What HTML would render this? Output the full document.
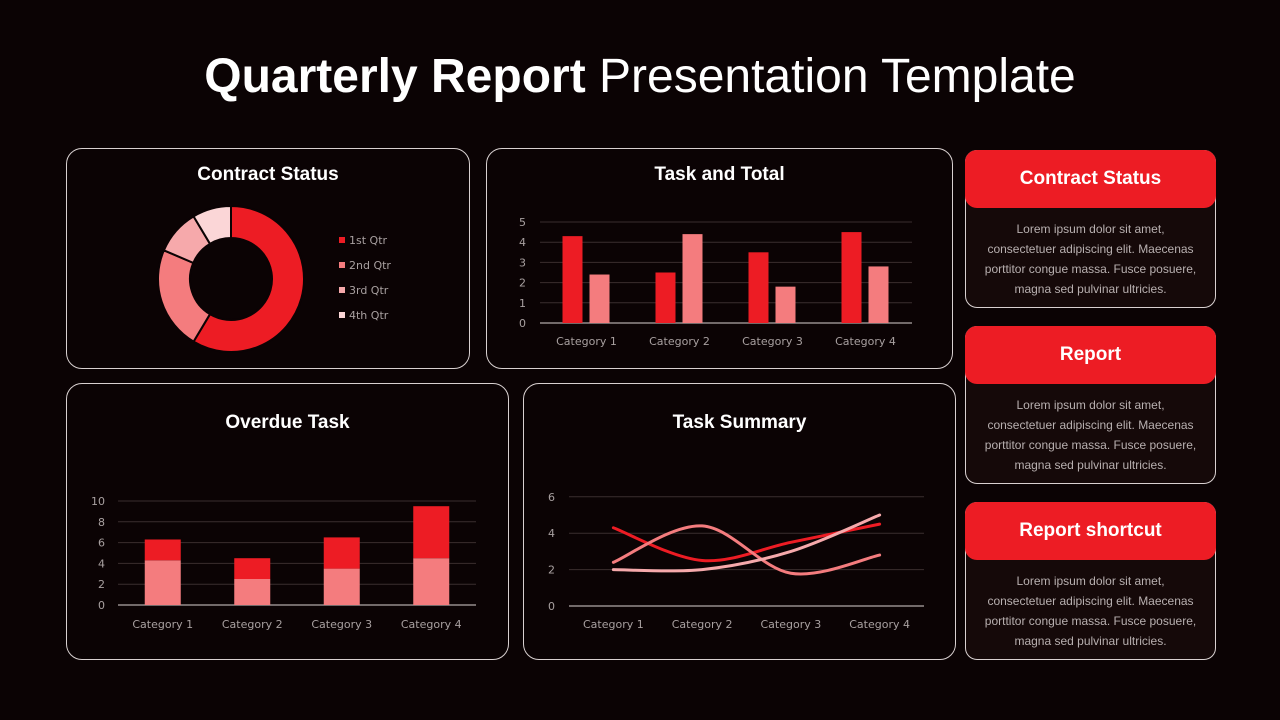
<!DOCTYPE html>
<html><head><meta charset="utf-8"><style>
body{margin:0;width:1280px;height:720px;background:#0b0304;font-family:"Liberation Sans",sans-serif;overflow:hidden;position:relative;color:#fff}
.title{position:absolute;top:49px;left:0;width:1280px;text-align:center;font-size:48px;letter-spacing:0px}
.panel{position:absolute;border:1px solid #d8d0d0;border-radius:16px;box-sizing:border-box}
.ptitle{position:absolute;left:0;right:0;text-align:center;font-weight:bold;font-size:19px;font-family:"Liberation Sans Narrow","Liberation Sans",sans-serif}
.card{position:absolute;left:965px;width:251px;border:1px solid #d8d0d0;border-radius:12px;background:#150909;box-sizing:border-box}
.card .hd{position:absolute;left:-1px;top:-1px;width:251px;height:58px;background:#ed1c24;border-radius:12px;text-align:center;line-height:58px;font-weight:bold;font-size:19px;font-family:"Liberation Sans Narrow","Liberation Sans",sans-serif}
.card .bd{position:absolute;top:68px;left:0;right:0;text-align:center;font-size:12px;line-height:20px;color:#b8b0b0}
svg{position:absolute;left:0;top:0}
svg text{font-family:"DejaVu Sans",sans-serif;font-size:11px;fill:#a8a0a0}
</style></head><body>
<div class="title"><b>Quarterly Report</b> Presentation Template</div>

<div class="panel" style="left:66px;top:148px;width:404px;height:221px"><div class="ptitle" style="top:15px">Contract Status</div></div>
<div class="panel" style="left:486px;top:148px;width:467px;height:221px"><div class="ptitle" style="top:15px">Task and Total</div></div>
<div class="panel" style="left:66px;top:383px;width:443px;height:277px"><div class="ptitle" style="top:28px">Overdue Task</div></div>
<div class="panel" style="left:523px;top:383px;width:433px;height:277px"><div class="ptitle" style="top:28px">Task Summary</div></div>

<div class="card" style="top:150px;height:158px"><div class="hd">Contract Status</div><div class="bd">Lorem ipsum dolor sit amet,<br>consectetuer adipiscing elit. Maecenas<br>porttitor congue massa. Fusce posuere,<br>magna sed pulvinar ultricies.</div></div>
<div class="card" style="top:326px;height:158px"><div class="hd">Report</div><div class="bd">Lorem ipsum dolor sit amet,<br>consectetuer adipiscing elit. Maecenas<br>porttitor congue massa. Fusce posuere,<br>magna sed pulvinar ultricies.</div></div>
<div class="card" style="top:502px;height:158px"><div class="hd">Report shortcut</div><div class="bd">Lorem ipsum dolor sit amet,<br>consectetuer adipiscing elit. Maecenas<br>porttitor congue massa. Fusce posuere,<br>magna sed pulvinar ultricies.</div></div>

<svg id="chart" width="1280" height="720"></svg>
<script>
const donutLabels=["1st Qtr","2nd Qtr","3rd Qtr","4th Qtr"];
const donutValues=[8.2,3.2,1.4,1.2];
const cats=["Category 1","Category 2","Category 3","Category 4"];
const ttSeriesA=[4.3,2.5,3.5,4.5];
const ttSeriesB=[2.4,4.4,1.8,2.8];
const ttTicks=[0,1,2,3,4,5];
const odBottom=[4.3,2.5,3.5,4.5];
const odTop=[2.0,2.0,3.0,5.0];
const odTicks=[0,2,4,6,8,10];
const lnA=[4.3,2.5,3.5,4.5];
const lnB=[2.4,4.4,1.8,2.8];
const lnC=[2.0,2.0,3.0,5.0];
const lnTicks=[0,2,4,6];
const RED="#ed1c24",PINK="#f47c7e",LP="#f6a9ab",LLP="#fbd6d7";
const svg=document.getElementById('chart');
function mk(t,a,name){const e=document.createElementNS('http://www.w3.org/2000/svg',t);for(const k in a)e.setAttribute(k,a[k]);


svg.appendChild(e);return e;}
function txt(x,y,s,anchor,name){const e=mk('text',{x:x,y:y,'text-anchor':anchor},name);e.textContent=s;return e;}

(function(){const cx=231,cy=279,R=73,r=41,tot=donutValues.reduce((a,b)=>a+b,0);const cols=[RED,PINK,LP,LLP];let a0=0;
donutValues.forEach((v,i)=>{const a1=a0+v/tot*2*Math.PI;const p=(a,rr)=>[cx+rr*Math.sin(a),cy-rr*Math.cos(a)];const lg=(a1-a0)>Math.PI?1:0;
const [x1,y1]=p(a0,R),[x2,y2]=p(a1,R),[x3,y3]=p(a1,r),[x4,y4]=p(a0,r);
mk('path',{d:`M${x1},${y1}A${R},${R} 0 ${lg} 1 ${x2},${y2}L${x3},${y3}A${r},${r} 0 ${lg} 0 ${x4},${y4}Z`,fill:cols[i],stroke:'#0b0304','stroke-width':2},'donut-slice-'+(i+1));a0=a1;
mk('rect',{x:339,y:237+i*25,width:6,height:6,fill:cols[i]},'legend-swatch');
txt(349,244+i*25,donutLabels[i],'start','legend-entry');});})();

(function(){const x0=540,x1=912,y0=323,k=20.2,step=(x1-x0)/4;
ttTicks.forEach(t=>{const y=y0-t*k;mk('line',{x1:x0,x2:x1,y1:y,y2:y,stroke:t?'#3a2e2e':'#d8d0d0','stroke-width':1},'gridline');txt(526,y+4,t,'end','y-tick');});
cats.forEach((c,i)=>{const cx=x0+step*(i+0.5);
mk('rect',{x:cx-24,y:y0-ttSeriesA[i]*k,width:20,height:ttSeriesA[i]*k,fill:RED},'bar-a-'+(i+1));
mk('rect',{x:cx+3,y:y0-ttSeriesB[i]*k,width:20,height:ttSeriesB[i]*k,fill:PINK},'bar-b-'+(i+1));
txt(cx,345,c,'middle','x-tick');});})();

(function(){const x0=118,x1=476,y0=605,k=10.4,step=(x1-x0)/4;
odTicks.forEach(t=>{const y=y0-t*k;mk('line',{x1:x0,x2:x1,y1:y,y2:y,stroke:t?'#3a2e2e':'#d8d0d0','stroke-width':1},'gridline');txt(105,y+4,t,'end','y-tick');});
cats.forEach((c,i)=>{const cx=x0+step*(i+0.5);const hb=odBottom[i]*k,ht=odTop[i]*k;
mk('rect',{x:cx-18,y:y0-hb,width:36,height:hb,fill:PINK},'stack-bottom-'+(i+1));
mk('rect',{x:cx-18,y:y0-hb-ht,width:36,height:ht,fill:RED},'stack-top-'+(i+1));
txt(cx,628,c,'middle','x-tick');});})();

(function(){const x0=569,x1=924,y0=606,k=18.2,step=(x1-x0)/4;
lnTicks.forEach(t=>{const y=y0-t*k;mk('line',{x1:x0,x2:x1,y1:y,y2:y,stroke:t?'#3a2e2e':'#d8d0d0','stroke-width':1},'gridline');txt(555,y+4,t,'end','y-tick');});
cats.forEach((c,i)=>txt(x0+step*(i+0.5),628,c,'middle','x-tick'));
function path(vals){const pts=vals.map((v,i)=>[x0+step*(i+0.5),y0-v*k]);let d=`M${pts[0][0]},${pts[0][1]}`;
for(let i=0;i<pts.length-1;i++){const p0=pts[Math.max(0,i-1)],p1=pts[i],p2=pts[i+1],p3=pts[Math.min(pts.length-1,i+2)];
const c1=[p1[0]+(p2[0]-p0[0])/6,p1[1]+(p2[1]-p0[1])/6],c2=[p2[0]-(p3[0]-p1[0])/6,p2[1]-(p3[1]-p1[1])/6];
d+=`C${c1[0]},${c1[1]} ${c2[0]},${c2[1]} ${p2[0]},${p2[1]}`;}return d;}
[[lnA,RED,'line-series-1'],[lnB,PINK,'line-series-2'],[lnC,LP,'line-series-3']].forEach(s=>mk('path',{d:path(s[0]),fill:'none',stroke:s[1],'stroke-width':3,'stroke-linecap':'round'},s[2]));})();
</script>
</body></html>
